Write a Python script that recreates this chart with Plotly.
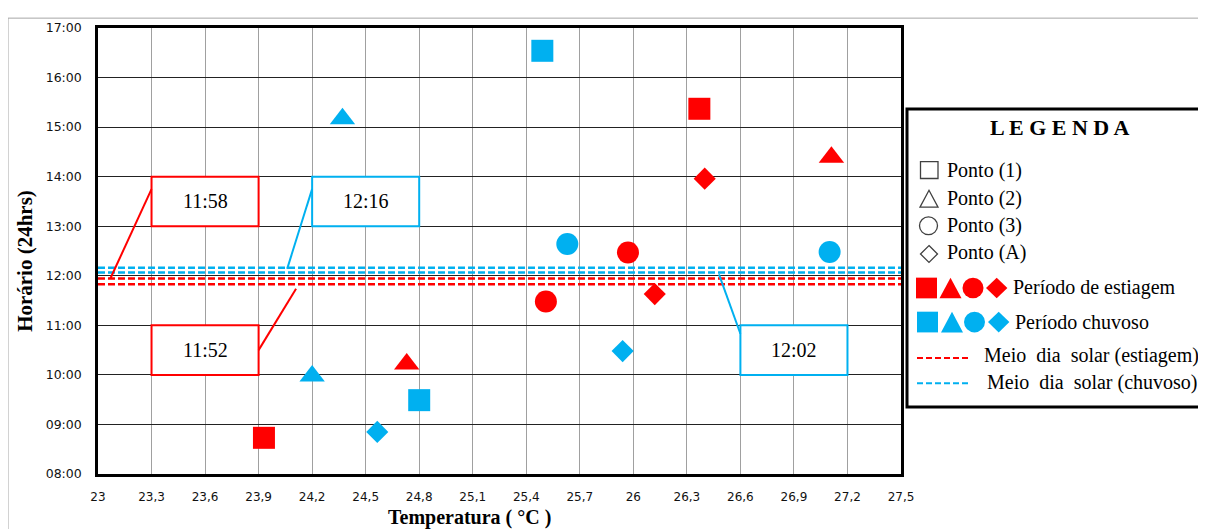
import plotly.graph_objects as go

# ---------------- data ----------------
x_tickvals = [23.0, 23.3, 23.6, 23.9, 24.2, 24.5, 24.8, 25.1, 25.4, 25.7, 26.0, 26.3, 26.6, 26.9, 27.2, 27.5]
x_ticktext = ["23", "23,3", "23,6", "23,9", "24,2", "24,5", "24,8", "25,1", "25,4", "25,7", "26", "26,3", "26,6", "26,9", "27,2", "27,5"]
y_tickvals = [8, 9, 10, 11, 12, 13, 14, 15, 16, 17]
y_ticktext = ["08:00", "09:00", "10:00", "11:00", "12:00", "13:00", "14:00", "15:00", "16:00", "17:00"]

# Período de estiagem (temperature in °C, time in decimal hours)
est_p1_temp = [23.93, 26.37]
est_p1_hora = [8.73, 15.37]
est_p2_temp = [24.73, 27.11]
est_p2_hora = [10.22, 14.39]
est_p3_temp = [25.51, 25.97]
est_p3_hora = [11.48, 12.47]
est_pA_temp = [26.40, 26.12]
est_pA_hora = [13.96, 11.63]

# Período chuvoso
chu_p1_temp = [25.49, 24.80]
chu_p1_hora = [16.54, 9.49]
chu_p2_temp = [24.37, 24.20]
chu_p2_hora = [15.17, 9.98]
chu_p3_temp = [25.63, 27.10]
chu_p3_hora = [12.64, 12.48]
chu_pA_temp = [24.565, 25.94]
chu_pA_hora = [8.85, 10.48]

# Meio dia solar lines (decimal hours)
meio_dia_estiagem = [11.946, 11.83]
meio_dia_chuvoso = [12.065, 12.163]

# Callout labels
callout_text = ["11:58", "11:52", "12:16", "12:02"]
callout_period = ["estiagem", "estiagem", "chuvoso", "chuvoso"]

# ---------------- styling / layout ----------------
RED = "#FF0000"
BLUE = "#00B0F0"
SERIF = "Liberation Serif"
OFF = 8  # page body margin
W, H = 1206, 529
L, R, T, B = 98, 901, 22, 474
XMIN, XMAX, YMIN, YMAX = 23.0, 27.5, 8.0, 17.0


def fx(px):
    return (px - L) / (R - L)


def fy(py):
    return (B - py) / (B - T)


fig = go.Figure()

# dashed solar-noon lines
for val in meio_dia_estiagem:
    fig.add_trace(go.Scatter(x=[XMIN, XMAX], y=[val, val], mode="lines",
                             line=dict(color=RED, width=2.5, dash="7px,3px"),
                             hoverinfo="skip", showlegend=False))
for val in meio_dia_chuvoso:
    fig.add_trace(go.Scatter(x=[XMIN, XMAX], y=[val, val], mode="lines",
                             line=dict(color=BLUE, width=2.5, dash="7px,3px"),
                             hoverinfo="skip", showlegend=False))

series = [
    (est_p1_temp, est_p1_hora, RED, "square", 22),
    (est_p2_temp, est_p2_hora, RED, "triangle-up", 22),
    (est_p3_temp, est_p3_hora, RED, "circle", 22),
    (est_pA_temp, est_pA_hora, RED, "diamond", 17),
    (chu_p1_temp, chu_p1_hora, BLUE, "square", 22),
    (chu_p2_temp, chu_p2_hora, BLUE, "triangle-up", 22),
    (chu_p3_temp, chu_p3_hora, BLUE, "circle", 22),
    (chu_pA_temp, chu_pA_hora, BLUE, "diamond", 17),
]
for xs, ys, col, sym, sz in series:
    fig.add_trace(go.Scatter(x=xs, y=ys, mode="markers",
                             marker=dict(color=col, symbol=sym, size=sz, line=dict(width=0)),
                             showlegend=False))

shapes = []
annotations = []

# callout boxes (data-space positions of the callouts)
callout_boxes = [(23.3, 23.9, 13, 14), (23.3, 23.9, 10, 11), (24.2, 24.8, 13, 14), (26.6, 27.2, 10, 11)]
callout_leaders = [(23.3, 13.75, 23.07, 11.95), (23.9, 10.5, 24.11, 11.74),
                   (24.2, 13.75, 24.06, 12.14), (26.6, 10.83, 26.48, 12.03)]
for txt, per, box, ld in zip(callout_text, callout_period, callout_boxes, callout_leaders):
    col = RED if per == "estiagem" else BLUE
    shapes.append(dict(type="rect", xref="x", yref="y", x0=box[0], x1=box[1], y0=box[2], y1=box[3],
                       line=dict(color=col, width=2), fillcolor="white", layer="above"))
    shapes.append(dict(type="line", xref="x", yref="y", x0=ld[0], y0=ld[1], x1=ld[2], y1=ld[3],
                       line=dict(color=col, width=2)))
    annotations.append(dict(x=(box[0] + box[1]) / 2, y=(box[2] + box[3]) / 2, xref="x", yref="y",
                            text=txt, showarrow=False, font=dict(family=SERIF, size=20, color="black")))

# outer chart border (gray)
shapes.append(dict(type="line", xref="paper", yref="paper", x0=fx(8), x1=fx(1230), y0=fy(12), y1=fy(12),
                   line=dict(color="#A6A6A6", width=1)))
shapes.append(dict(type="line", xref="paper", yref="paper", x0=fx(8), x1=fx(8), y0=fy(12), y1=fy(560),
                   line=dict(color="#A6A6A6", width=1)))

# legend box
shapes.append(dict(type="rect", xref="paper", yref="paper", x0=fx(907), x1=fx(1230), y0=fy(406), y1=fy(104),
                   line=dict(color="black", width=3), fillcolor="white"))

annotations.append(dict(x=fx(1059), y=fy(123), xref="paper", yref="paper", text="<b>L E G E N D A</b>",
                        showarrow=False, xanchor="center", yanchor="middle",
                        font=dict(family=SERIF, size=22, color="black")))

# hollow legend symbols
HC = "#404040"
shapes.append(dict(type="rect", xref="paper", yref="paper", x0=fx(920.5), x1=fx(938), y0=fy(174.5), y1=fy(157.5),
                   line=dict(color=HC, width=1.3)))
shapes.append(dict(type="path", xref="paper", yref="paper",
                   path=f"M {fx(920)} {fy(203.5)} L {fx(938)} {fy(203.5)} L {fx(929)} {fy(186.5)} Z",
                   line=dict(color=HC, width=1.3)))
shapes.append(dict(type="circle", xref="paper", yref="paper", x0=fx(919.5), x1=fx(937.5), y0=fy(231.5), y1=fy(213.5),
                   line=dict(color=HC, width=1.3)))
shapes.append(dict(type="path", xref="paper", yref="paper",
                   path=f"M {fx(929)} {fy(242.5)} L {fx(937.5)} {fy(251)} L {fx(929)} {fy(259.5)} L {fx(920.5)} {fy(251)} Z",
                   line=dict(color=HC, width=1.3)))

for i, lab in enumerate(["Ponto (1)", "Ponto (2)", "Ponto (3)", "Ponto (A)"]):
    yy = [166, 195, 222, 250][i]
    annotations.append(dict(x=fx(945), y=fy(yy), xref="paper", yref="paper", text=lab, showarrow=False,
                            xanchor="left", yanchor="middle", font=dict(family=SERIF, size=20, color="black")))


def filled_row(col, yc, xs):
    # xs: left edges of square, triangle, circle, diamond
    h = 10.5
    sx, tx, cx, dx = xs
    shapes.append(dict(type="rect", xref="paper", yref="paper", x0=fx(sx), x1=fx(sx + 21), y0=fy(yc + h), y1=fy(yc - h),
                       line=dict(width=0), fillcolor=col))
    shapes.append(dict(type="path", xref="paper", yref="paper",
                       path=f"M {fx(tx)} {fy(yc + h)} L {fx(tx + 22)} {fy(yc + h)} L {fx(tx + 11)} {fy(yc - h)} Z",
                       line=dict(width=0), fillcolor=col))
    shapes.append(dict(type="circle", xref="paper", yref="paper", x0=fx(cx), x1=fx(cx + 21), y0=fy(yc + h), y1=fy(yc - h),
                       line=dict(width=0), fillcolor=col))
    shapes.append(dict(type="path", xref="paper", yref="paper",
                       path=f"M {fx(dx + 10.7)} {fy(yc - h)} L {fx(dx + 21.4)} {fy(yc)} L {fx(dx + 10.7)} {fy(yc + h)} L {fx(dx)} {fy(yc)} Z",
                       line=dict(width=0), fillcolor=col))


filled_row(RED, 285.5, (916, 939.5, 962.5, 986))
filled_row(BLUE, 320, (917, 941, 964, 988))

annotations.append(dict(x=fx(1011), y=fy(285), xref="paper", yref="paper", text="Período de estiagem",
                        showarrow=False, xanchor="left", yanchor="middle",
                        font=dict(family=SERIF, size=20, color="black")))
annotations.append(dict(x=fx(1013), y=fy(320), xref="paper", yref="paper", text="Período chuvoso",
                        showarrow=False, xanchor="left", yanchor="middle",
                        font=dict(family=SERIF, size=20, color="black")))

shapes.append(dict(type="line", xref="paper", yref="paper", x0=fx(917), x1=fx(971), y0=fy(356.5), y1=fy(356.5),
                   line=dict(color=RED, width=2, dash="6px,3px")))
shapes.append(dict(type="line", xref="paper", yref="paper", x0=fx(917), x1=fx(971), y0=fy(382), y1=fy(382),
                   line=dict(color=BLUE, width=2, dash="6px,3px")))
annotations.append(dict(x=fx(982), y=fy(354), xref="paper", yref="paper", text="Meio  dia  solar (estiagem)",
                        showarrow=False, xanchor="left", yanchor="middle",
                        font=dict(family=SERIF, size=20, color="black")))
annotations.append(dict(x=fx(985), y=fy(381), xref="paper", yref="paper", text="Meio  dia  solar (chuvoso)",
                        showarrow=False, xanchor="left", yanchor="middle",
                        font=dict(family=SERIF, size=20, color="black")))

# axis titles
annotations.append(dict(x=fx(25), y=fy(258), xref="paper", yref="paper", text="<b>Horário (24hrs)</b>",
                        textangle=-90, showarrow=False, xanchor="center", yanchor="middle",
                        font=dict(family=SERIF, size=21, color="black")))
annotations.append(dict(x=fx(469), y=fy(518), xref="paper", yref="paper", text="<b>Temperatura ( °C )</b>",
                        showarrow=False, xanchor="center", yanchor="middle",
                        font=dict(family=SERIF, size=20, color="black")))

fig.update_layout(
    width=W - OFF, height=H - OFF,
    margin=dict(l=L - OFF, r=W - R, t=T - OFF, b=H - B, pad=0),
    paper_bgcolor="white", plot_bgcolor="white",
    showlegend=False,
    shapes=shapes, annotations=annotations,
    xaxis=dict(range=[XMIN, XMAX], tickvals=x_tickvals, ticktext=x_ticktext,
               showgrid=True, gridcolor="#A0A0A0", gridwidth=1, zeroline=False,
               showline=True, linecolor="black", linewidth=2.5, mirror=True,
               ticks="", ticklabelstandoff=10,
               tickfont=dict(family="DejaVu Sans", size=12, color="#111111")),
    yaxis=dict(range=[YMIN, YMAX], tickvals=y_tickvals, ticktext=y_ticktext,
               showgrid=True, gridcolor="#222222", gridwidth=1, zeroline=False,
               showline=True, linecolor="black", linewidth=2.5, mirror=True,
               ticks="", ticklabelstandoff=11,
               tickfont=dict(family="DejaVu Sans", size=12.5, color="#111111")),
)

fig.write_html("out.html")
